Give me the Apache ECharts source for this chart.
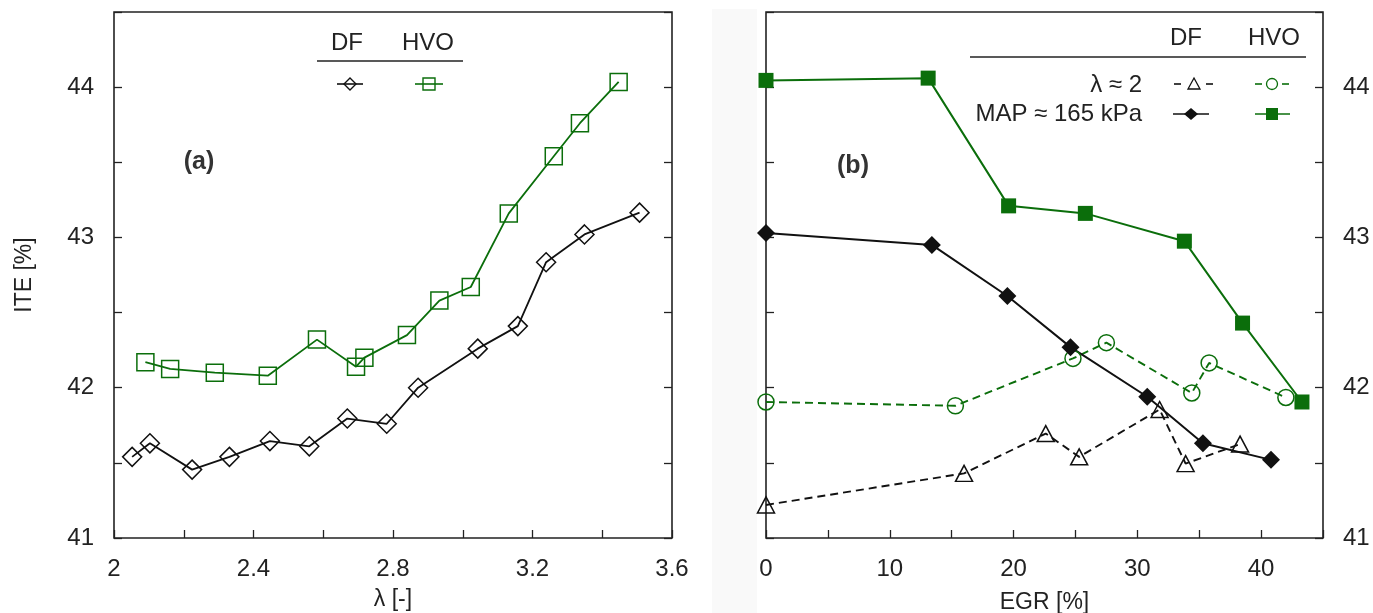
<!DOCTYPE html>
<html lang="en">
<head>
    <meta charset="UTF-8">
    <title>ITE vs lambda and EGR</title>
    <script src="https://cdn.jsdelivr.net/npm/echarts@6/dist/echarts.min.js"></script>
    <style>
        html, body { margin: 0; padding: 0; background: #fff; }
        #main { width: 1373px; height: 613px; }
    </style>
</head>
<body>
    <div id="main"></div>
    <script>
        // (a) ITE vs lambda
        var lamDF = [2.052, 2.103, 2.224, 2.331, 2.447, 2.560, 2.669, 2.782, 2.872, 3.043, 3.158, 3.239, 3.349, 3.507];
        var iteDF = [41.54, 41.63, 41.455, 41.54, 41.645, 41.61, 41.795, 41.76, 42.0, 42.26, 42.41, 42.835, 43.02, 43.165];
        var lamHVO = [2.090, 2.161, 2.289, 2.441, 2.582, 2.694, 2.718, 2.840, 2.933, 3.023, 3.132, 3.261, 3.336, 3.447];
        var iteHVO = [42.17, 42.125, 42.1, 42.08, 42.32, 42.14, 42.2, 42.35, 42.58, 42.67, 43.16, 43.54, 43.76, 44.035];

        // (b) ITE vs EGR
        var egrMapDF = [0, 13.4, 19.5, 24.6, 30.8, 35.3, 40.8];
        var iteMapDF = [43.03, 42.95, 42.61, 42.27, 41.94, 41.63, 41.52];
        var egrMapHVO = [0, 13.1, 19.6, 25.8, 33.8, 38.5, 43.3];
        var iteMapHVO = [44.045, 44.06, 43.21, 43.16, 42.975, 42.43, 41.905];
        var egrLamDF = [0, 16.0, 22.6, 25.3, 31.8, 33.9, 38.3];
        var iteLamDF = [41.22, 41.43, 41.695, 41.54, 41.855, 41.495, 41.625];
        var egrLamHVO = [0, 15.3, 24.8, 27.5, 34.4, 35.8, 42.0];
        var iteLamHVO = [41.905, 41.88, 42.195, 42.3, 41.965, 42.165, 41.935];

        var BLACK = '#111';
        var GREEN = '#0b6e0b';
        var FONT = 'Liberation Sans, Arial, sans-serif';

        function pairs(xs, ys) {
            return xs.map(function (x, i) { return [x, ys[i]]; });
        }

        var tickStyle = { inside: true, length: 8, lineStyle: { color: '#222', width: 1.3 } };
        var labelBase = { fontSize: 24, color: '#222', fontFamily: FONT };
        var nameBase = { fontSize: 23, color: '#222', fontFamily: FONT };

        var chart = echarts.init(document.getElementById('main'));

        chart.setOption({
            animation: false,
            grid: [
                { left: 114, top: 12, width: 558, height: 526, outerBoundsMode: 'none', show: true, borderColor: '#222', borderWidth: 1.6 },
                { left: 766, top: 12, width: 557, height: 526, outerBoundsMode: 'none', show: true, borderColor: '#222', borderWidth: 1.6 }
            ],
            xAxis: [
                {
                    gridIndex: 0, type: 'value', min: 2, max: 3.6, interval: 0.2,
                    axisLine: { show: false }, axisTick: tickStyle, splitLine: { show: false },
                    axisLabel: Object.assign({
                        margin: 19,
                        formatter: function (v) { return Math.round(v * 10) % 4 === 0 ? String(+v.toFixed(1)) : ''; }
                    }, labelBase),
                    name: 'λ [-]', nameLocation: 'middle', nameGap: 50, nameTextStyle: nameBase
                },
                {
                    gridIndex: 1, type: 'value', min: 0, max: 45, interval: 5,
                    axisLine: { show: false }, axisTick: tickStyle, splitLine: { show: false },
                    axisLabel: Object.assign({
                        margin: 19,
                        formatter: function (v) { return v % 10 === 0 ? String(v) : ''; }
                    }, labelBase),
                    name: 'EGR [%]', nameLocation: 'middle', nameGap: 53, nameTextStyle: nameBase
                }
            ],
            yAxis: [
                {
                    gridIndex: 0, type: 'value', min: 41, max: 44.5, interval: 0.5,
                    axisLine: { show: false }, axisTick: tickStyle, splitLine: { show: false },
                    axisLabel: Object.assign({
                        margin: 20,
                        formatter: function (v) { return v % 1 === 0 ? String(v) : ''; }
                    }, labelBase),
                    name: 'ITE [%]', nameLocation: 'middle', nameGap: 78, nameTextStyle: nameBase
                },
                {
                    gridIndex: 0, type: 'value', position: 'right', min: 41, max: 44.5, interval: 0.5,
                    axisLine: { show: false }, axisTick: tickStyle, splitLine: { show: false },
                    axisLabel: { show: false }
                },
                {
                    gridIndex: 1, type: 'value', min: 41, max: 44.5, interval: 0.5,
                    axisLine: { show: false }, axisTick: tickStyle, splitLine: { show: false },
                    axisLabel: { show: false }
                },
                {
                    gridIndex: 1, type: 'value', position: 'right', min: 41, max: 44.5, interval: 0.5,
                    axisLine: { show: false }, axisTick: tickStyle, splitLine: { show: false },
                    axisLabel: Object.assign({
                        margin: 20,
                        formatter: function (v) { return v % 1 === 0 ? String(v) : ''; }
                    }, labelBase)
                }
            ],
            series: [
                {
                    name: 'DF', type: 'line', xAxisIndex: 0, yAxisIndex: 0,
                    data: pairs(lamDF, iteDF),
                    symbol: 'diamond', symbolSize: 19,
                    lineStyle: { color: BLACK, width: 1.8 },
                    itemStyle: { color: 'transparent', borderColor: BLACK, borderWidth: 1.5 }
                },
                {
                    name: 'HVO', type: 'line', xAxisIndex: 0, yAxisIndex: 0,
                    data: pairs(lamHVO, iteHVO),
                    symbol: 'rect', symbolSize: 17,
                    lineStyle: { color: GREEN, width: 1.8 },
                    itemStyle: { color: 'transparent', borderColor: GREEN, borderWidth: 1.5 }
                },
                {
                    name: 'DF lambda 2', type: 'line', xAxisIndex: 1, yAxisIndex: 2,
                    data: pairs(egrLamDF, iteLamDF),
                    symbol: 'triangle', symbolSize: [17, 16],
                    lineStyle: { color: BLACK, width: 1.9, type: [8, 5] },
                    itemStyle: { color: 'transparent', borderColor: BLACK, borderWidth: 1.5 }
                },
                {
                    name: 'HVO lambda 2', type: 'line', xAxisIndex: 1, yAxisIndex: 2,
                    data: pairs(egrLamHVO, iteLamHVO),
                    symbol: 'circle', symbolSize: 16,
                    lineStyle: { color: GREEN, width: 1.9, type: [8, 5] },
                    itemStyle: { color: 'transparent', borderColor: GREEN, borderWidth: 1.5 }
                },
                {
                    name: 'DF MAP', type: 'line', xAxisIndex: 1, yAxisIndex: 2,
                    data: pairs(egrMapDF, iteMapDF),
                    symbol: 'diamond', symbolSize: 18,
                    lineStyle: { color: BLACK, width: 2 },
                    itemStyle: { color: BLACK }
                },
                {
                    name: 'HVO MAP', type: 'line', xAxisIndex: 1, yAxisIndex: 2,
                    data: pairs(egrMapHVO, iteMapHVO),
                    symbol: 'rect', symbolSize: 15,
                    lineStyle: { color: GREEN, width: 2 },
                    itemStyle: { color: GREEN }
                }
            ],
            graphic: [
                // faint grey strip between the panels
                { type: 'rect', z: -10, shape: { x: 712, y: 9, width: 45, height: 604 }, style: { fill: '#f9f9f9' } },

                // panel labels
                { type: 'text', x: 199, y: 162, style: { text: '(a)', font: 'bold 25px ' + FONT, fill: '#333', align: 'center', verticalAlign: 'middle' } },
                { type: 'text', x: 853, y: 166, style: { text: '(b)', font: 'bold 25px ' + FONT, fill: '#333', align: 'center', verticalAlign: 'middle' } },

                // legend (a)
                { type: 'text', x: 347, y: 43, style: { text: 'DF', font: '24px ' + FONT, fill: '#222', align: 'center', verticalAlign: 'middle' } },
                { type: 'text', x: 428, y: 43, style: { text: 'HVO', font: '24px ' + FONT, fill: '#222', align: 'center', verticalAlign: 'middle' } },
                { type: 'line', shape: { x1: 317, y1: 61, x2: 463, y2: 61 }, style: { stroke: '#222', lineWidth: 1.6 } },
                { type: 'line', shape: { x1: 337, y1: 84, x2: 363, y2: 84 }, style: { stroke: BLACK, lineWidth: 1.6 } },
                { type: 'polygon', shape: { points: [[350, 78], [356, 84], [350, 90], [344, 84]] }, style: { stroke: BLACK, fill: 'none', lineWidth: 1.4 } },
                { type: 'line', shape: { x1: 415, y1: 84, x2: 443, y2: 84 }, style: { stroke: GREEN, lineWidth: 1.6 } },
                { type: 'rect', shape: { x: 423, y: 78, width: 12, height: 12 }, style: { stroke: GREEN, fill: 'none', lineWidth: 1.4 } },

                // legend (b)
                { type: 'text', x: 1186, y: 38, style: { text: 'DF', font: '24px ' + FONT, fill: '#222', align: 'center', verticalAlign: 'middle' } },
                { type: 'text', x: 1274, y: 38, style: { text: 'HVO', font: '24px ' + FONT, fill: '#222', align: 'center', verticalAlign: 'middle' } },
                { type: 'line', shape: { x1: 970, y1: 57, x2: 1306, y2: 57 }, style: { stroke: '#222', lineWidth: 1.6 } },
                { type: 'text', x: 1142, y: 85, style: { text: 'λ ≈ 2', font: '24px ' + FONT, fill: '#222', align: 'right', verticalAlign: 'middle' } },
                { type: 'text', x: 1142, y: 114, style: { text: 'MAP ≈ 165 kPa', font: '24px ' + FONT, fill: '#222', align: 'right', verticalAlign: 'middle' } },
                { type: 'line', shape: { x1: 1174, y1: 84, x2: 1181, y2: 84 }, style: { stroke: BLACK, lineWidth: 1.6 } },
                { type: 'line', shape: { x1: 1206, y1: 84, x2: 1213, y2: 84 }, style: { stroke: BLACK, lineWidth: 1.6 } },
                { type: 'polygon', shape: { points: [[1194, 78], [1200, 89], [1188, 89]] }, style: { stroke: BLACK, fill: 'none', lineWidth: 1.3 } },
                { type: 'line', shape: { x1: 1173, y1: 114, x2: 1209, y2: 114 }, style: { stroke: BLACK, lineWidth: 1.6 } },
                { type: 'polygon', shape: { points: [[1191, 108], [1198, 114], [1191, 120], [1184, 114]] }, style: { fill: BLACK } },
                { type: 'line', shape: { x1: 1255, y1: 84, x2: 1262, y2: 84 }, style: { stroke: GREEN, lineWidth: 1.6 } },
                { type: 'line', shape: { x1: 1282, y1: 84, x2: 1289, y2: 84 }, style: { stroke: GREEN, lineWidth: 1.6 } },
                { type: 'circle', shape: { cx: 1272, cy: 84, r: 5.5 }, style: { stroke: GREEN, fill: 'none', lineWidth: 1.3 } },
                { type: 'line', shape: { x1: 1255, y1: 114, x2: 1290, y2: 114 }, style: { stroke: GREEN, lineWidth: 1.6 } },
                { type: 'rect', shape: { x: 1266, y: 108, width: 12, height: 12 }, style: { fill: GREEN } }
            ]
        });
    </script>
</body>
</html>
